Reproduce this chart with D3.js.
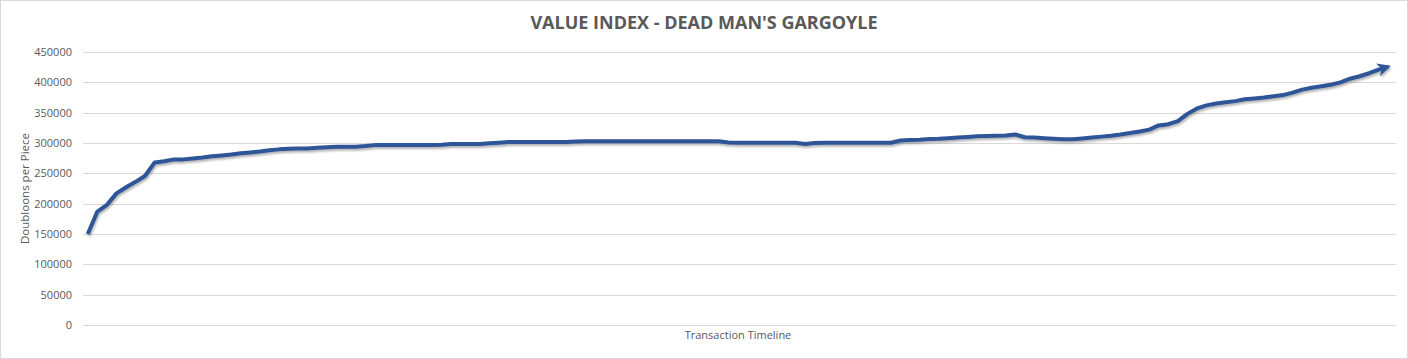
<!DOCTYPE html>
<html>
<head>
<meta charset="utf-8">
<script src="https://cdn.jsdelivr.net/npm/d3@7"></script>
<style>
  html, body { margin: 0; padding: 0; background: #fff; }
  svg { display: block; }
  text { font-family: "Open Sans", "Noto Sans", sans-serif; }
</style>
</head>
<body>
<svg id="chart" width="1408" height="359"></svg>
<script>
const title = "VALUE INDEX - DEAD MAN'S GARGOYLE";
const yAxisTitle = "Doubloons per Piece";
const xAxisTitle = "Transaction Timeline";
const yTicks = [0, 50000, 100000, 150000, 200000, 250000, 300000, 350000, 400000, 450000];

// value of each transaction, in order along the timeline
const values = [
  150000, 187000, 198000, 217000, 227000, 236000, 246000, 268000, 270000, 273000,
  273000, 274500, 276000, 278000, 279500, 281000, 283000, 284500, 286000, 288000,
  289500, 290500, 291000, 291000, 292000, 293000, 294000, 294000, 294000, 295000,
  296500, 296500, 296500, 296500, 296500, 296500, 296500, 297000, 298500, 298500,
  298500, 298500, 299500, 300500, 301500, 301500, 301500, 301500, 301500, 301500,
  301500, 302500, 303000, 303000, 303000, 303000, 303000, 303000, 303000, 303000,
  303000, 303000, 303000, 303000, 303000, 303000, 303000, 301000, 300500, 300500,
  300500, 300500, 300500, 300500, 300500, 298500, 300000, 300500, 300500, 300500,
  300500, 300500, 300500, 300500, 300500, 304000, 305000, 305500, 306500, 307000,
  308000, 309000, 310000, 311000, 311500, 312000, 312500, 314000, 309500, 309000,
  308000, 307000, 306000, 306000, 307500, 309000, 310500, 312000, 314000, 316500,
  319000, 322000, 329000, 331000, 336000, 348000, 357000, 362000, 365000, 367000,
  369000, 372000, 373500, 375000, 377000, 379000, 383000, 388000, 391000, 393500,
  396000, 400000, 406000, 410000, 415000, 421000, 426000
];
const transactions = values.map((v, i) => i + 1);

const W = 1408, H = 359;
const plot = { left: 83, right: 1393, top: 52, bottom: 325 };

const svg = d3.select("#chart");

// chart border
svg.append("rect")
  .attr("x", 0.5).attr("y", 0.5)
  .attr("width", W - 1).attr("height", H - 1)
  .attr("fill", "#fff").attr("stroke", "#d9d9d9");

const x = d3.scaleBand()
  .domain(transactions)
  .range([plot.left, plot.right])
  .paddingInner(0).paddingOuter(0);

const y = d3.scaleLinear()
  .domain([0, 450000])
  .range([plot.bottom, plot.top]);

// gridlines + y tick labels
const yAxis = d3.axisLeft(y)
  .tickValues(yTicks)
  .tickFormat(d3.format("d"))
  .tickSize(-(plot.right - plot.left + 3))
  .tickPadding(11);

const gy = svg.append("g")
  .attr("transform", `translate(${plot.left},0)`)
  .call(yAxis);
gy.select(".domain").remove();
gy.selectAll(".tick line")
  .attr("stroke", "#d9d9d9").attr("stroke-width", 1)
  .attr("shape-rendering", "crispEdges");
gy.selectAll(".tick text")
  .attr("fill", "#595959")
  .style("font-size", "11px");

// shadow filter
const defs = svg.append("defs");
const f = defs.append("filter").attr("id", "shadow")
  .attr("x", "-5%").attr("y", "-20%").attr("width", "110%").attr("height", "140%");
f.append("feDropShadow")
  .attr("dx", 1).attr("dy", 2).attr("stdDeviation", 1.2)
  .attr("flood-color", "#000").attr("flood-opacity", 0.3);

defs.append("marker")
  .attr("id", "arrow")
  .attr("viewBox", "0 0 10 10")
  .attr("refX", 8).attr("refY", 5)
  .attr("markerWidth", 3.4).attr("markerHeight", 3.4)
  .attr("markerUnits", "strokeWidth")
  .attr("orient", "auto")
  .append("path")
  .attr("d", "M0,0 L10,5 L0,10 L3,5 Z")
  .attr("fill", "#2f5597");

const line = d3.line()
  .x((d, i) => x(transactions[i]) + x.bandwidth() / 2)
  .y(d => y(d));

svg.append("path")
  .datum(values)
  .attr("d", line)
  .attr("fill", "none")
  .attr("stroke", "#2f5597")
  .attr("stroke-width", 4)
  .attr("stroke-linejoin", "round")
  .attr("stroke-linecap", "butt")
  .attr("marker-end", "url(#arrow)")
  .attr("filter", "url(#shadow)");

// title
svg.append("text")
  .attr("x", 704)
  .attr("y", 29)
  .attr("text-anchor", "middle")
  .attr("fill", "#595959")
  .style("font-size", "18px")
  .style("font-weight", "bold")
  .text(title);

// y axis title
svg.append("text")
  .attr("transform", `translate(29,${(plot.top + plot.bottom) / 2}) rotate(-90)`)
  .attr("text-anchor", "middle")
  .attr("fill", "#595959")
  .style("font-size", "11.5px")
  .text(yAxisTitle);

// x axis title
svg.append("text")
  .attr("x", (plot.left + plot.right) / 2)
  .attr("y", 339)
  .attr("text-anchor", "middle")
  .attr("fill", "#595959")
  .style("font-size", "11px")
  .text(xAxisTitle);
</script>
</body>
</html>
